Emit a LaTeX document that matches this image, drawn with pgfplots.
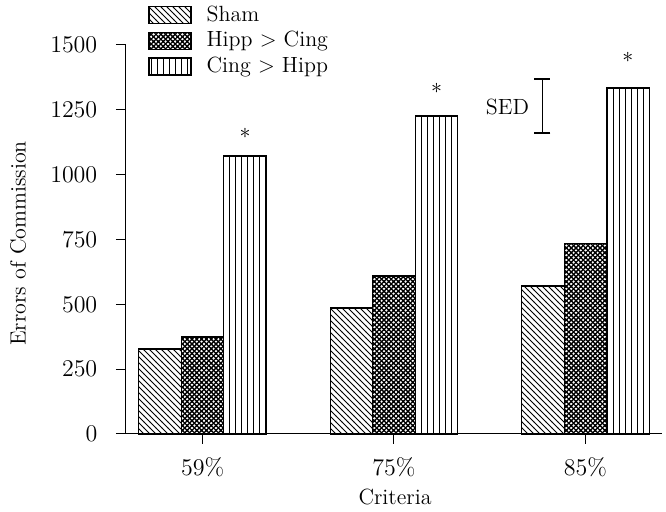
\documentclass[border=0pt]{standalone}
\usepackage{pgfplots}
\pgfplotsset{compat=1.18}
\usetikzlibrary{patterns}
\pgfdeclarepatternformonly{densecross}{\pgfqpoint{-1pt}{-1pt}}{\pgfqpoint{3.4pt}{3.4pt}}{\pgfqpoint{2.4pt}{2.4pt}}{%
  \pgfsetlinewidth{0.6pt}%
  \pgfpathmoveto{\pgfqpoint{-0.5pt}{-0.5pt}}\pgfpathlineto{\pgfqpoint{2.9pt}{2.9pt}}%
  \pgfpathmoveto{\pgfqpoint{-0.5pt}{2.9pt}}\pgfpathlineto{\pgfqpoint{2.9pt}{-0.5pt}}%
  \pgfusepath{stroke}}
\begin{document}
\fontsize{11}{13}\selectfont
\begin{tikzpicture}
\useasboundingbox (-63pt,-39pt) rectangle (270pt,217pt);
\begin{axis}[
  at={(0pt,0pt)}, anchor=south west,
  scale only axis, width=268pt, height=194.5pt,
  xmin=-0.4, xmax=2.4, ymin=0, ymax=1500,
  axis x line=bottom, axis y line=left,
  axis line style={-, line width=0.5pt},
  xtick={0,1,2}, xticklabels={59\%,75\%,85\%},
  ytick={0,250,500,750,1000,1250,1500},
  /pgf/number format/1000 sep={},
  tick align=outside, major tick length=5pt,
  tick style={black, line width=0.5pt},
  tick label style={font=\fontsize{12}{14}\selectfont},
  yticklabel style={xshift=-5.5pt},
  xticklabel style={yshift=-3pt},
  xlabel={Criteria}, ylabel={Errors of Commission},
  xlabel style={at={(axis description cs:0.502,-0.162)}, anchor=center},
  ylabel style={at={(axis description cs:-0.2015,0.49)}, anchor=center},
  legend style={at={(axis description cs:0.041,1.105)}, anchor=north west,
    draw=none, fill=none, inner sep=0pt, row sep=2.5pt,
    nodes={inner sep=0.5pt}, cells={anchor=west}},
  legend image code/.code={\draw[#1] (0pt,-4.25pt) rectangle (21pt,4.25pt); \path (28pt,0pt);},
  clip=false,
]
\addplot[ybar, bar width=0.222, bar shift=-0.222, draw=black, line width=0.6pt, pattern=north west lines]
  coordinates {(0,328) (1,486) (2,571)};
\addlegendentry{Sham}
\addplot[ybar, bar width=0.222, bar shift=0, draw=black, line width=0.6pt, pattern=densecross]
  coordinates {(0,374) (1,609) (2,733)};
\addlegendentry{Hipp > Cing}
\addplot[ybar, bar width=0.222, bar shift=0.222, draw=black, line width=0.6pt, pattern=vertical lines]
  coordinates {(0,1072) (1,1226) (2,1334)};
\addlegendentry{Cing > Hipp}
\addplot[draw=none, mark=none, forget plot,
  error bars/.cd, y dir=both, y explicit,
  error bar style={black, line width=0.6pt},
  error mark options={black, rotate=90, mark size=4pt, line width=0.6pt}]
  coordinates {(1.775,1265) +- (0,104)};
\node at (axis cs:0.222,1160) {$\ast$};
\node at (axis cs:1.222,1334) {$\ast$};
\node at (axis cs:2.222,1454) {$\ast$};
\node at (axis cs:1.593,1261) {SED};
\end{axis}
\end{tikzpicture}
\end{document}
